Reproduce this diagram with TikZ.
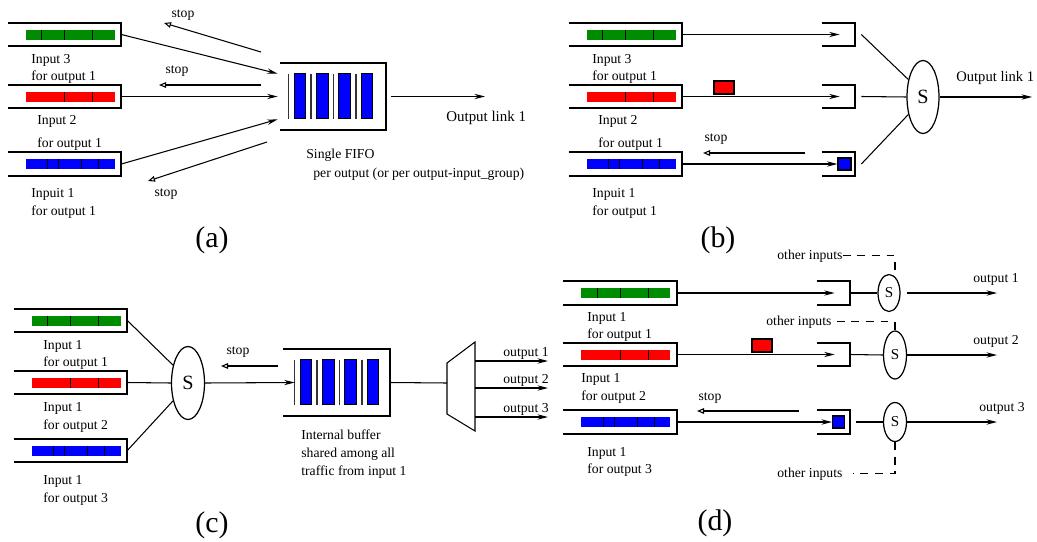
\documentclass[tikz,border=0pt]{standalone}
\usepackage{fontspec}
\setmainfont{Liberation Serif}
\usetikzlibrary{shapes,arrows,arrows.meta,positioning,calc}

\definecolor{qgreen}{RGB}{0,140,0}

% box open on the left
\newcommand{\openbox}[1]{%
  \draw[box] (#1.north west) -- (#1.north east) -- (#1.south east) -- (#1.south west);}

% input queue: open box, coloured cells and separators
\newcommand{\inqueue}[4]{%
  \node[qslot] (#1) at (#2) {};
  \openbox{#1}
  \fill[#3] ($(#1.west)+(18,-5)$) rectangle ++(89,10);
  \foreach \cut in {#4}
    \draw[cellsep] ($(#1.west)+(18+\cut,-5)$) -- ++(0,10);
}

% four packets stored in a buffer
\newcommand{\fifocells}[2]{%
  \foreach \k in {0,...,3} {
    \draw[stripe] ($(#1.north west)+(#2+22.4*\k,11)$) -- ++(0,45);
    \filldraw[pkt, fill=blue] ($(#1.north west)+(#2+5.5+22.4*\k,11)$) rectangle ++(11.5,45);
  }}

\begin{document}
\begin{tikzpicture}[x=0.02cm, y=-0.02cm, font=\fontsize{7.8}{9}\selectfont,
    qslot/.style={minimum width=2.26cm, minimum height=0.46cm, inner sep=0pt},
    oslot/.style={minimum width=0.66cm, minimum height=0.46cm, inner sep=0pt},
    buffer/.style={minimum width=2.12cm, minimum height=1.34cm, inner sep=0pt},
    box/.style={line width=1pt},
    cellsep/.style={line width=0.7pt},
    stripe/.style={line width=0.8pt, black!80},
    pkt/.style={draw, line width=0.6pt, inner sep=0pt},
    link/.style={line width=0.6pt},
    arrow/.style={link, -{Stealth[length=6pt, width=3pt, inset=2pt]}},
    stoparrow/.style={link, -{Triangle[open, length=4pt, width=3.2pt]}},
    others/.style={link, dash pattern=on 4.5pt off 3.8pt},
    switch/.style={ellipse, draw, line width=0.7pt, inner sep=0pt},
    lbl/.style={anchor=base west, inner sep=0pt},
    stoplbl/.style={anchor=base, inner sep=0pt},
    biglbl/.style={font=\fontsize{8.5}{10}\selectfont},
    tag/.style={font=\fontsize{17}{20}\selectfont}]

    \useasboundingbox (0,0) rectangle (1037,541);

    % (a) single FIFO per output
    \inqueue{a3}{64.5,34.5}{qgreen}{16,39,67}
    \inqueue{a2}{64.5,96.5}{red}{39,67}
    \inqueue{a1}{64.5,164}{blue}{22,33,56,73}
    \node[lbl] at (31,63) {Input 3};
    \node[lbl] at (31,80) {for output 1};
    \node[lbl] at (37,124) {Input 2};
    \node[lbl] at (37,147) {for output 1};
    \node[lbl] at (31,197) {Inpuit 1};
    \node[lbl] at (31,215) {for output 1};

    \node[buffer] (fifoA) at (333,96.5) {};
    \openbox{fifoA}
    \fifocells{fifoA}{9}
    \node[lbl] at (306,158) {Single FIFO};
    \node[lbl] at (313,177) {per output (or per output-input\_group)};

    \draw[arrow] (a3.east) -- ($(fifoA.north west)+(-2,11)$);
    \draw[arrow] (a2.east) -- ($(fifoA.west)+(-2,0)$);
    \draw[arrow] (a1.east) -- ($(fifoA.south west)+(-2,-11)$);

    \coordinate (outA) at (485,96.5);
    \draw[arrow] ($(fifoA.east)+(5,0)$) -- (outA);
    \node[lbl, biglbl] at (446,121) {Output link 1};

    % stop signals back to the inputs
    \coordinate (stopA3) at (261,52);
    \coordinate (stopA2) at (261,85);
    \coordinate (stopA1) at (267,142);
    \draw[stoparrow] (stopA3) -- (164,23);
    \draw[stoparrow] (stopA2) -- (159,85);
    \draw[stoparrow] (stopA1) -- (148,181);
    \node[stoplbl] at (183,17) {stop};
    \node[stoplbl] at (177,73) {stop};
    \node[stoplbl] at (166,196) {stop};

    \node[tag] at (212,240) {(a)};

    % (b) one slot per input in front of the output switch
    \inqueue{b3}{625.5,34.5}{qgreen}{16,39,67}
    \inqueue{b2}{625.5,96.5}{red}{39,67}
    \inqueue{b1}{625.5,164}{blue}{22,33,56,73}
    \node[lbl] at (592,63) {Input 3};
    \node[lbl] at (592,80) {for output 1};
    \node[lbl] at (598,124) {Input 2};
    \node[lbl] at (598,147) {for output 1};
    \node[lbl] at (592,197) {Inpuit 1};
    \node[lbl] at (592,215) {for output 1};

    \foreach \n/\y in {3/34.5, 2/96.5, 1/164} {
        \node[oslot] (sb\n) at (838.5,\y) {};
        \openbox{sb\n}
    }
    \node[pkt, fill=blue, minimum width=0.26cm, minimum height=0.24cm] (pkB) at (844.5,164) {};

    \draw[arrow] (b3.east) -- ($(sb3.west)+(18,0)$);
    \draw[arrow] (b2.east) -- ($(sb2.west)+(18,0)$);
    \draw[arrow] (b1.east) -- (pkB.west);
    \node[pkt, fill=red, minimum width=0.4cm, minimum height=0.26cm] (redB) at (724,87.5) {};

    \coordinate (stopB) at (805,153);
    \draw[stoparrow] (stopB) -- (703,153);
    \node[stoplbl] at (716,141) {stop};

    \node[switch, minimum width=0.64cm, minimum height=1.46cm, font=\fontsize{11.5}{12}\selectfont] (swB) at (923,97) {S};
    \draw[link] ($(sb3.east)+(6,0)$) -- (swB.130);
    \draw[link] ($(sb2.east)+(6,0)$) -- (swB.west);
    \draw[link] ($(sb1.east)+(6,0)$) -- (swB.230);
    \coordinate (outB) at (1032,97);
    \draw[arrow] (swB.east) -- (outB);
    \node[lbl, font=\fontsize{8.3}{10}\selectfont] at (956,81) {Output link 1};

    \node[tag] at (718,240) {(b)};

    % (c) internal buffer shared by all traffic of one input
    \inqueue{c1}{70.5,320.5}{qgreen}{16,39,67}
    \inqueue{c2}{70.5,382.5}{red}{39,67}
    \inqueue{c3}{70.5,450.5}{blue}{22,33,56,73}
    \node[lbl] at (43,349) {Input 1};
    \node[lbl] at (43,366) {for output 1};
    \node[lbl] at (43,411) {Input 1};
    \node[lbl] at (43,429) {for output 2};
    \node[lbl] at (43,484) {Input 1};
    \node[lbl] at (43,502) {for output 3};

    \node[switch, minimum width=0.66cm, minimum height=1.46cm, font=\fontsize{11.5}{12}\selectfont] (swC) at (188,383) {S};
    \draw[link] (c1.east) -- (swC.130);
    \draw[link] (c2.east) -- (swC.west);
    \draw[link] (c3.east) -- (swC.230);

    \node[buffer] (bufC) at (336.5,382.5) {};
    \openbox{bufC}
    \fifocells{bufC}{11.5}
    \draw[arrow] (swC.east) -- ($(bufC.west)+(11.5,0)$);
    \node[lbl] at (301,439) {Internal buffer};
    \node[lbl] at (301,457) {shared among all};
    \node[lbl] at (301,475) {traffic from input 1};

    \coordinate (stopC) at (278,366);
    \draw[stoparrow] (stopC) -- (221,366);
    \node[stoplbl] at (238,354) {stop};

    % demultiplexer towards the outputs
    \coordinate (dmx) at (447,383);
    \coordinate (dmxr) at (475,383);
    \draw[link] ($(dmx)+(0,-20)$) -- ++(28,-21) -- ++(0,89) -- ++(-28,-17) -- cycle;
    \draw[link] (bufC.east) -- (dmx);
    \foreach \i/\d in {1/-22, 2/5, 3/34} {
        \coordinate (dmo\i) at ($(dmxr)+(73,\d)$);
        \draw[arrow] ($(dmxr)+(0,\d)$) -- (dmo\i);
        \node[lbl] at ($(dmxr)+(28,\d-5)$) {output \i};
    }

    \node[tag] at (212,525) {(c)};

    % (d) per-output slots, each output switch also fed by other inputs
    \inqueue{d1}{620,293}{qgreen}{16,39,67}
    \inqueue{d2}{620,354.5}{red}{39,67}
    \inqueue{d3}{620,422}{blue}{22,33,56,73}
    \node[lbl] at (587,321) {Input 1};
    \node[lbl] at (587,338) {for output 1};
    \node[lbl] at (581,382) {Input 1};
    \node[lbl] at (581,400) {for output 2};
    \node[lbl] at (587,456) {Input 1};
    \node[lbl] at (587,473) {for output 3};

    \foreach \n/\y in {1/293, 2/354.5, 3/422} {
        \node[oslot] (sd\n) at (833.5,\y) {};
        \openbox{sd\n}
    }
    \node[pkt, fill=blue, minimum width=0.24cm, minimum height=0.24cm] (pkD) at (838.5,422) {};

    \draw[arrow] (d1.east) -- ($(sd1.west)+(18,0)$);
    \draw[arrow] (d2.east) -- ($(sd2.west)+(18,0)$);
    \draw[arrow] (d3.east) -- (pkD.west);
    \node[pkt, fill=red, minimum width=0.4cm, minimum height=0.26cm] (redD) at (762,345.5) {};

    \coordinate (stopD) at (799,411);
    \draw[stoparrow] (stopD) -- (697,411);
    \node[stoplbl] at (710,400) {stop};

    \node[switch, minimum width=0.44cm, minimum height=0.74cm, font=\fontsize{8.6}{10}\selectfont] (swD1) at (889,293) {S};
    \node[switch, minimum width=0.46cm, minimum height=0.96cm, font=\fontsize{8.6}{10}\selectfont] (swD2) at (895,355) {S};
    \node[switch, minimum width=0.46cm, minimum height=0.78cm, font=\fontsize{8.6}{10}\selectfont] (swD3) at (895,422) {S};
    \draw[link] (sd1.east) -- (swD1.west);
    \draw[link] (sd2.east) -- (swD2.west);
    \draw[link] ($(sd3.east)+(6,0)$) -- (swD3.west);

    \coordinate (outD1) at (997,293);
    \coordinate (outD2) at (997,355);
    \coordinate (outD3) at (997,422);
    \draw[arrow] ($(swD1.east)+(6,0)$) -- (outD1);
    \draw[arrow] (swD2.east) -- (outD2);
    \draw[arrow] (swD3.east) -- (outD3);
    \node[lbl] at (973,282) {output 1};
    \node[lbl] at (973,344) {output 2};
    \node[lbl] at (979,411) {output 3};

    \node[lbl] (oth1) at (777,259) {other inputs};
    \node[lbl] (oth2) at (766,325) {other inputs};
    \node[lbl] (oth3) at (777,477) {other inputs};
    \draw[others] (oth1.east) -| ($(swD1.north)+(6,-4)$);
    \draw[others] ($(oth2.east)+(5,0)$) -| (swD2.north);
    \draw[others] (swD3.south) |- ($(oth3.east)+(10,0)$);

    \node[tag] at (715,523) {(d)};

\end{tikzpicture}
\end{document}
